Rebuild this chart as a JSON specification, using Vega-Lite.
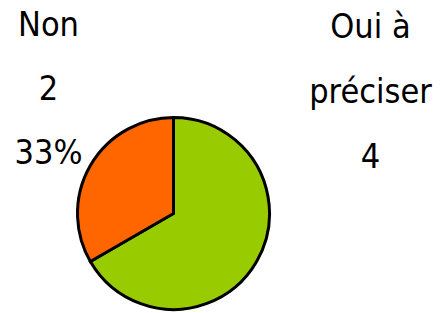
{
  "$schema": "https://vega.github.io/schema/vega-lite/v6.json",
  "width": 193,
  "height": 193,
  "autosize": {"type": "none"},
  "padding": {"left": 77, "top": 117, "right": 171, "bottom": 3},
  "background": "white",
  "config": {"view": {"stroke": null}},
  "data": {"values": [
    {"category": "Oui à préciser", "value": 4, "label": "Oui à\npréciser\n4"},
    {"category": "Non", "value": 2, "label": "Non\n2\n33%"}
  ]},
  "layer": [
    {
      "mark": {"type": "arc", "outerRadius": 96, "stroke": "black", "strokeWidth": 3},
      "encoding": {
        "theta": {"field": "value", "type": "quantitative", "stack": true},
        "order": {"field": "value", "sort": "descending"},
        "color": {"field": "category", "type": "nominal", "scale": {"domain": ["Oui à préciser", "Non"], "range": ["#99CC00", "#FF6600"]}, "legend": null}
      }
    },
    {
      "transform": [{"filter": "datum.category === 'Non'"}],
      "mark": {"type": "text", "lineBreak": "\n", "fontSize": 34, "font": "DejaVu Sans Condensed", "lineHeight": 64, "dx": -125, "dy": -188, "align": "center", "baseline": "middle", "color": "black"},
      "encoding": {"text": {"field": "label", "type": "nominal"}}
    },
    {
      "transform": [{"filter": "datum.category === 'Oui à préciser'"}],
      "mark": {"type": "text", "lineBreak": "\n", "fontSize": 34, "font": "DejaVu Sans Condensed", "lineHeight": 65, "dx": 197, "dy": -186, "align": "center", "baseline": "middle", "color": "black"},
      "encoding": {"text": {"field": "label", "type": "nominal"}}
    }
  ]
}
